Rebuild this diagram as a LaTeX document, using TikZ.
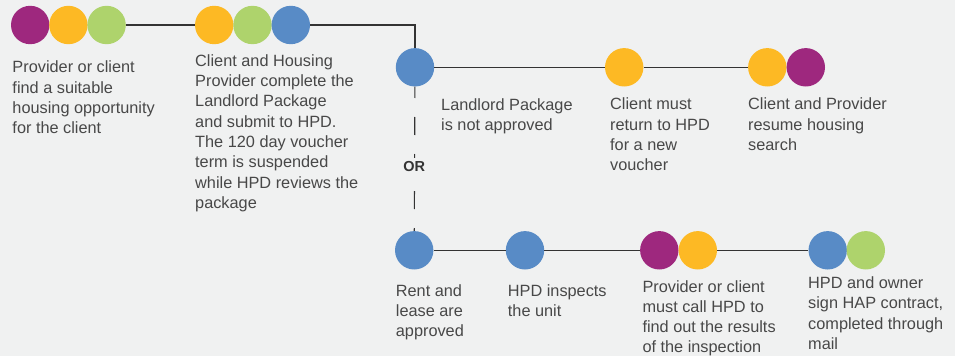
\documentclass[tikz,border=0pt]{standalone}
\usepackage{fontspec}
\setmainfont{Liberation Sans}
\usetikzlibrary{positioning}
\definecolor{bg}{RGB}{240,241,241}
\definecolor{ln}{RGB}{51,51,51}
\definecolor{txt}{RGB}{72,72,72}
\definecolor{plum}{RGB}{158,40,126}
\definecolor{amber}{RGB}{253,185,36}
\definecolor{lime}{RGB}{174,211,108}
\definecolor{sky}{RGB}{88,139,198}

\begin{document}
\begin{tikzpicture}[x=1pt,y=-1pt,
  dot/.style={circle,fill=#1,minimum size=38.4pt,inner sep=0pt},
  lbl/.style={anchor=north west,align=left,inner sep=0pt,text=txt,
              font=\fontsize{16.3}{20.3}\selectfont},
  link/.style={draw=ln,line width=1.1pt}]
  \fill[bg] (0,0) rectangle (955,356);
  \useasboundingbox (0,0) rectangle (955,356);
  % first row: finding a unit and handing in the package
  \node[dot=plum]  (fa) at (30.2,25) {};
  \node[dot=amber] (fb) at (68.4,25) {};
  \node[dot=lime]  (fc) at (106.6,25) {};
  \node[dot=amber] (ka) at (214.2,25) {};
  \node[dot=lime]  (kb) at (252.5,25) {};
  \node[dot=sky]   (kc) at (290.8,25) {};
  % upper branch: package refused
  \node[dot=sky]   (nb) at (415,67.3) {};
  \node[dot=amber] (rv) at (624.2,67.3) {};
  \node[dot=amber] (sa) at (767.3,67.3) {};
  \node[dot=plum]  (sb) at (805.8,67.3) {};
  % lower branch: package approved
  \node[dot=sky]   (ap) at (414.2,250.3) {};
  \node[dot=sky]   (iu) at (525,250.3) {};
  \node[dot=plum]  (ca) at (659.3,250.3) {};
  \node[dot=amber] (cb) at (697.8,250.3) {};
  \node[dot=sky]   (ha) at (827.7,250.3) {};
  \node[dot=lime]  (hb) at (865.8,250.3) {};
  \draw[link] (fc) -- (ka);
  \draw[link] (kc) -| (nb);
  \draw[link] (nb) -- (rv) -- (sa);
  \draw[link] (ap) -- (iu) -- (ca);
  \draw[link] (cb) -- (ha);
  \draw[link,dash pattern=on 18pt off 19pt,dash phase=6.7pt] (nb) -- (ap);
  \node[fill=bg,inner sep=3.5pt,text=ln,font=\fontsize{14.5}{16}\selectfont\bfseries]
       (or) at (414.2,166.5) {OR};
  % step texts
  \node[lbl] (tf) at (12.3,60.8) {Provider or client\\find a suitable\\housing opportunity\\for the client};
  \node[lbl] (tk) at (195,54.3) {Client and Housing\\Provider complete the\\Landlord Package\\and submit to HPD.\\The 120 day voucher\\term is suspended\\while HPD reviews the\\package};
  \node[lbl] (tn) at (441,98.3) {Landlord Package\\is not approved};
  \node[lbl] (tr) at (610,97.8) {Client must\\return to HPD\\for a new\\voucher};
  \node[lbl] (ts) at (748,97.8) {Client and Provider\\resume housing\\search};
  \node[lbl] (ta) at (395.7,284.3) {Rent and\\lease are\\approved};
  \node[lbl] (ti) at (507.7,284.3) {HPD inspects\\the unit};
  \node[lbl] (tc) at (642.3,280) {Provider or client\\must call HPD to\\find out the results\\of the inspection};
  \node[lbl] (th) at (808,276.6) {HPD and owner\\sign HAP contract,\\completed through\\mail};
\end{tikzpicture}
\end{document}
